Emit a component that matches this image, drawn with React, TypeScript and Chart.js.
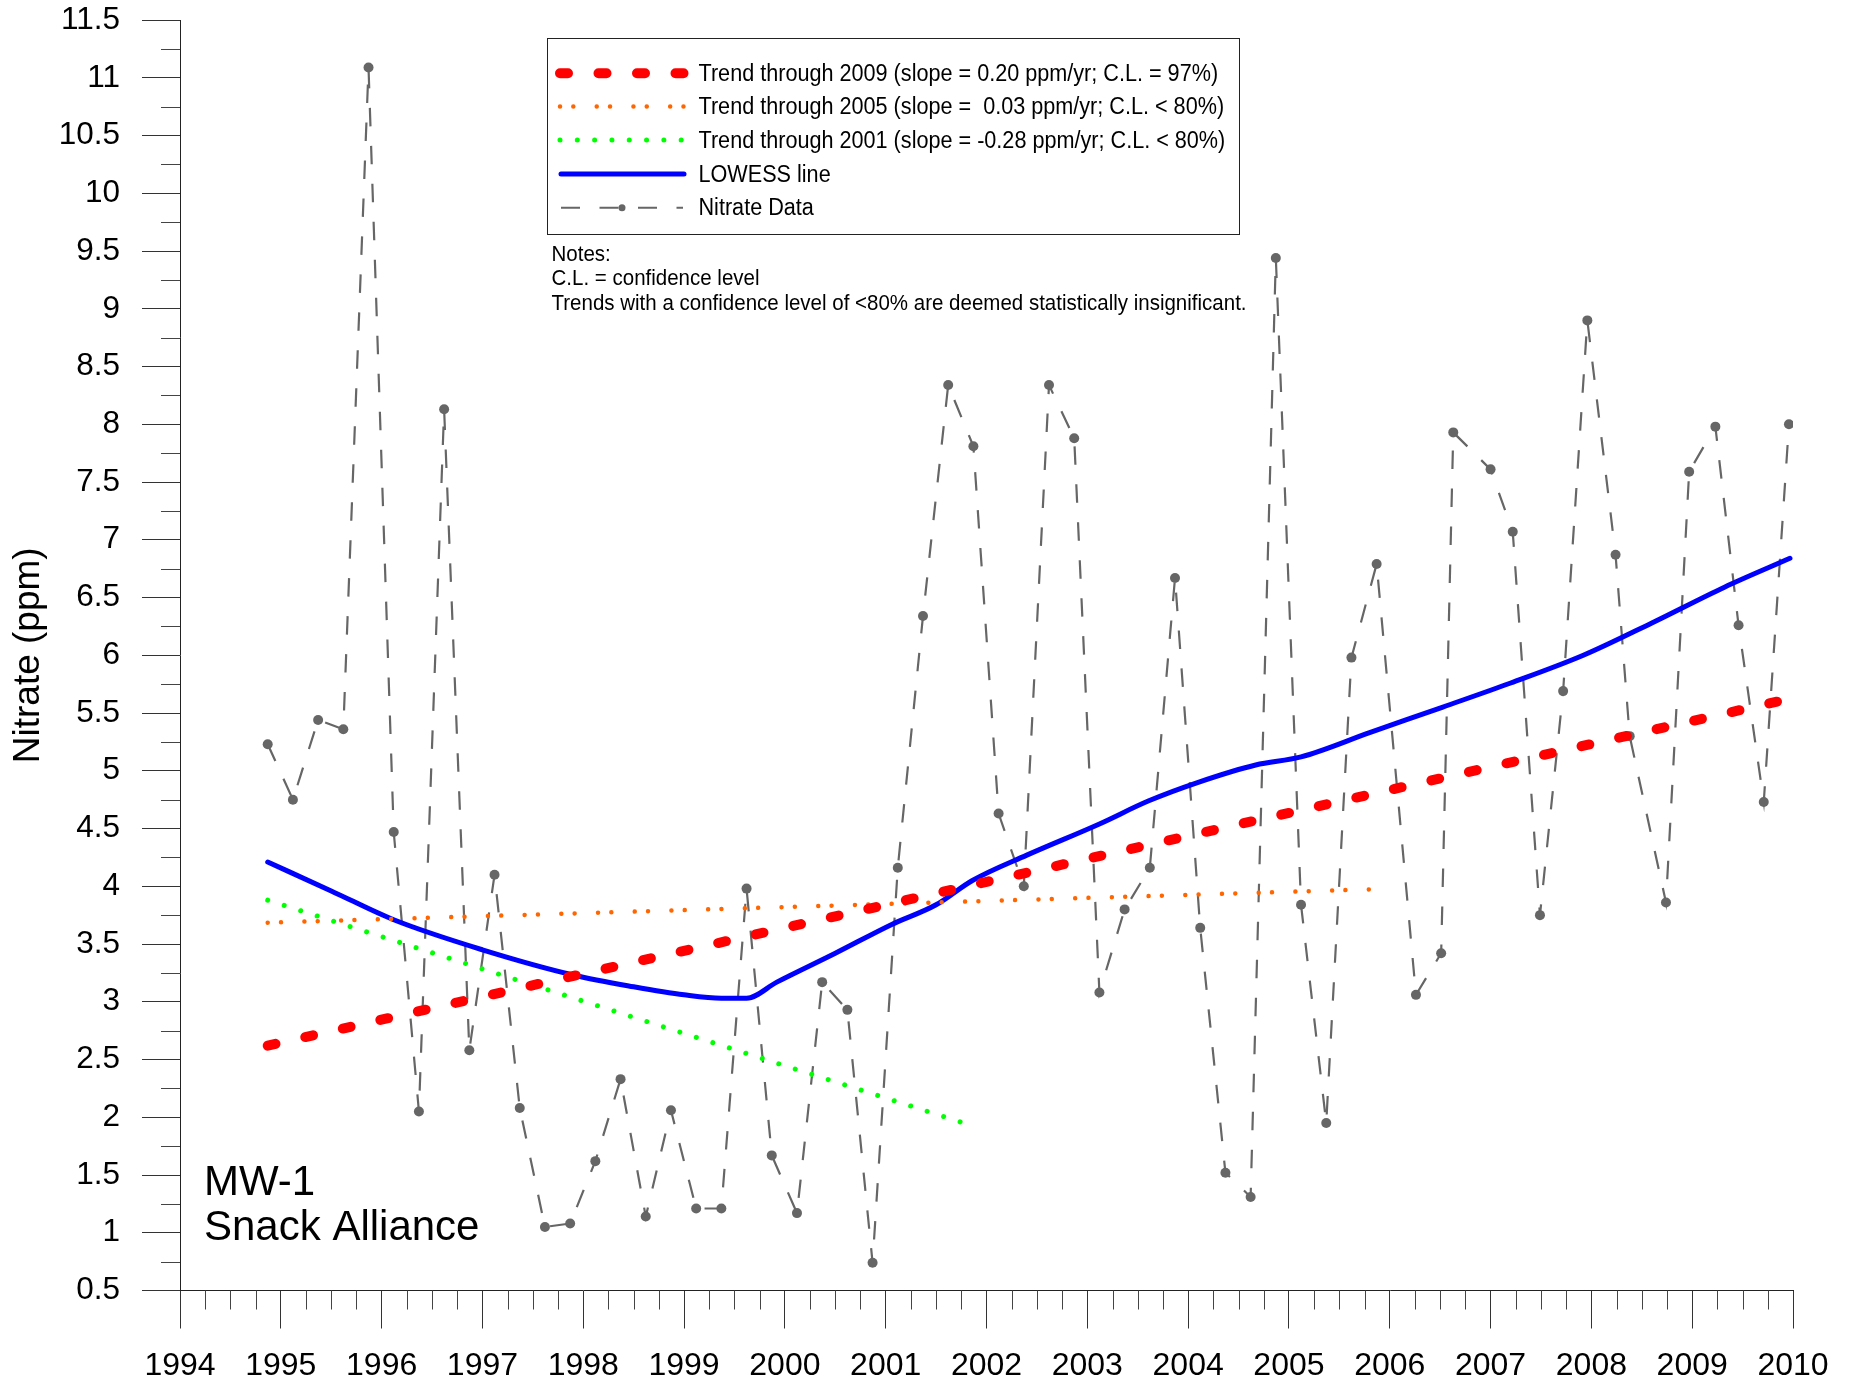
import { useEffect, useRef } from 'react';
import { Chart, registerables } from 'chart.js';

Chart.register(...registerables);

// ---------------- data ----------------
const nitrateYears = [
  1994.87, 1995.12, 1995.37, 1995.62, 1995.87, 1996.12, 1996.37, 1996.62, 1996.87, 1997.12,
  1997.37, 1997.62, 1997.87, 1998.12, 1998.37, 1998.62, 1998.87, 1999.12, 1999.37, 1999.62,
  1999.87, 2000.12, 2000.37, 2000.62, 2000.87, 2001.12, 2001.37, 2001.62, 2001.87, 2002.12,
  2002.37, 2002.62, 2002.87, 2003.12, 2003.37, 2003.62, 2003.87, 2004.12, 2004.37, 2004.62,
  2004.87, 2005.12, 2005.37, 2005.62, 2005.87, 2006.26, 2006.51, 2006.63, 2007.0, 2007.22,
  2007.49, 2007.72, 2007.96, 2008.24, 2008.38, 2008.74, 2008.97, 2009.23, 2009.46, 2009.71,
  2009.96,
];
const nitrateValues = [
  5.23, 4.75, 5.44, 5.36, 11.09, 4.47, 2.05, 8.13, 2.58, 4.1,
  2.08, 1.05, 1.08, 1.62, 2.33, 1.14, 2.06, 1.21, 1.21, 3.98,
  1.67, 1.17, 3.17, 2.93, 0.74, 4.16, 6.34, 8.34, 7.81, 4.63,
  4.0, 8.34, 7.88, 3.08, 3.8, 4.16, 6.67, 3.64, 1.52, 1.31,
  9.44, 3.84, 1.95, 5.98, 6.79, 3.06, 3.42, 7.93, 7.61, 7.07,
  3.75, 5.69, 8.9, 6.87, 5.3, 3.86, 7.59, 7.98, 6.26, 4.73,
  8.0,
];

const lowessYears = [
  1994.87, 1995.5, 1996.12, 1997.0, 1997.91, 1998.5, 1999.0, 1999.37, 1999.62, 1999.92,
  2000.5, 2001.06, 2001.5, 2001.86, 2002.4, 2003.12, 2003.61, 2004.1, 2004.67, 2005.12,
  2005.8, 2006.52, 2007.2, 2007.92, 2008.6, 2009.32, 2009.97,
];
const lowessValues = [
  4.21, 3.96, 3.71, 3.45, 3.23, 3.13, 3.06, 3.03, 3.03, 3.17,
  3.42, 3.67, 3.84, 4.05, 4.27, 4.54, 4.74, 4.9, 5.05, 5.12,
  5.33, 5.55, 5.76, 6.0, 6.28, 6.59, 6.84,
];

const trend2009Years = [1994.87, 2009.85];
const trend2009Values = [2.62, 5.6];
const trend2005Years = [1994.87, 2005.87];
const trend2005Values = [3.685, 3.975];
const trend2001Years = [1994.87, 2001.74];
const trend2001Values = [3.88, 1.96];

const xTickValues = [
  1994, 1995, 1996, 1997, 1998, 1999, 2000, 2001, 2002, 2003, 2004, 2005, 2006, 2007, 2008, 2009, 2010,
];
const yTickValues = [
  0.5, 1, 1.5, 2, 2.5, 3, 3.5, 4, 4.5, 5, 5.5, 6, 6.5, 7, 7.5, 8, 8.5, 9, 9.5, 10, 10.5, 11, 11.5,
];

const legendLabels = [
  'Trend through 2009 (slope = 0.20 ppm/yr; C.L. = 97%)',
  'Trend through 2005 (slope =  0.03 ppm/yr; C.L. < 80%)',
  'Trend through 2001 (slope = -0.28 ppm/yr; C.L. < 80%)',
  'LOWESS line',
  'Nitrate Data',
];
const noteLines = [
  'Notes:',
  'C.L. = confidence level',
  'Trends with a confidence level of <80% are deemed statistically insignificant.',
];
const siteLines = ['MW-1', 'Snack Alliance'];

// ---------------- styles ----------------
const FONT = '"Liberation Sans", Arial, Helvetica, sans-serif';
const GRAY = '#666666';
const RED = '#FF0000';
const ORANGE = '#FF6600';
const GREEN = '#00FF00';
const BLUE = '#0000FF';

const toXY = (xs: number[], ys: number[]) => xs.map((x, i) => ({ x, y: ys[i] }));

function drawScaledText(ctx: CanvasRenderingContext2D, text: string, x: number, y: number, font: string, sx: number) {
  ctx.save();
  ctx.translate(x, y);
  ctx.scale(sx, 1);
  ctx.font = font;
  ctx.fillStyle = '#000';
  ctx.textBaseline = 'alphabetic';
  ctx.textAlign = 'left';
  ctx.fillText(text, 0, 0);
  ctx.restore();
}

const overlayPlugin = {
  id: 'overlay',
  afterDraw(chart: any) {
    const ctx: CanvasRenderingContext2D = chart.ctx;
    const xs = chart.scales.x;
    const ys = chart.scales.y;
    const area = chart.chartArea;
    ctx.save();

    // minor ticks
    ctx.strokeStyle = '#444';
    ctx.lineWidth = 1;
    ctx.beginPath();
    for (let i = 0; i < yTickValues.length - 1; i++) {
      const v = (yTickValues[i] + yTickValues[i + 1]) / 2;
      const py = Math.round(ys.getPixelForValue(v)) + 0.5;
      ctx.moveTo(area.left - 19, py);
      ctx.lineTo(area.left, py);
    }
    for (let i = 0; i < xTickValues.length - 1; i++) {
      for (let q = 1; q < 4; q++) {
        const v = xTickValues[i] + q * 0.25;
        const px = Math.round(xs.getPixelForValue(v)) + 0.5;
        ctx.moveTo(px, area.bottom);
        ctx.lineTo(px, area.bottom + 19);
      }
    }
    ctx.stroke();

    // legend box
    const bx = 547.5, by = 38.5, bw = 692, bh = 196;
    ctx.fillStyle = '#fff';
    ctx.fillRect(bx, by, bw, bh);
    ctx.strokeStyle = '#222';
    ctx.lineWidth = 1;
    ctx.strokeRect(bx, by, bw, bh);

    const sx0 = 560, sx1 = 684;
    const rowBase = [80.7, 114, 147.5, 181.5, 215];
    const ds = chart.data.datasets;
    const sample = (i: number, y: number) => {
      const d = ds[i];
      ctx.save();
      ctx.strokeStyle = d.borderColor;
      ctx.lineWidth = d.borderWidth;
      ctx.lineCap = d.borderCapStyle || 'butt';
      ctx.setLineDash(d.borderDash || []);
      ctx.beginPath();
      ctx.moveTo(sx0, y);
      ctx.lineTo(sx1, y);
      ctx.stroke();
      ctx.restore();
    };
    sample(0, rowBase[0] - 7.4);
    sample(1, rowBase[1] - 7.4);
    sample(2, rowBase[2] - 7.4);
    ctx.save();
    ctx.strokeStyle = BLUE;
    ctx.lineWidth = 5;
    ctx.lineCap = 'round';
    ctx.beginPath();
    ctx.moveTo(561, rowBase[3] - 7.5);
    ctx.lineTo(684, rowBase[3] - 7.5);
    ctx.stroke();
    ctx.restore();
    // nitrate sample
    ctx.save();
    ctx.strokeStyle = GRAY;
    ctx.lineWidth = 2;
    ctx.setLineDash([19, 19.5]);
    ctx.beginPath();
    ctx.moveTo(561, rowBase[4] - 7.3);
    ctx.lineTo(683, rowBase[4] - 7.3);
    ctx.stroke();
    ctx.fillStyle = GRAY;
    ctx.beginPath();
    ctx.arc(622, rowBase[4] - 7.3, 3.5, 0, Math.PI * 2);
    ctx.fill();
    ctx.restore();

    const legendFont = `23px ${FONT}`;
    legendLabels.forEach((t, i) => drawScaledText(ctx, t, 698.5, rowBase[i], legendFont, 0.94));

    // notes
    const noteFont = `22px ${FONT}`;
    const noteBase = [260.5, 285, 309.5];
    noteLines.forEach((t, i) => drawScaledText(ctx, t, 551.5, noteBase[i], noteFont, 0.932));

    // site label
    const siteFont = `42px ${FONT}`;
    drawScaledText(ctx, siteLines[0], 204, 1195, siteFont, 1);
    drawScaledText(ctx, siteLines[1], 204, 1240, siteFont, 1);

    ctx.restore();
  },
};

export default function App() {
  const canvasRef = useRef<HTMLCanvasElement | null>(null);

  useEffect(() => {
    document.body.style.margin = '0';
    const canvas = canvasRef.current;
    if (!canvas) return;

    const chart = new Chart(canvas, {
      type: 'line',
      data: {
        datasets: [
          {
            label: legendLabels[0],
            data: toXY(trend2009Years, trend2009Values),
            borderColor: RED,
            borderWidth: 10,
            borderDash: [8, 30.5],
            borderCapStyle: 'round',
            pointRadius: 0,
            fill: false,
            order: 0,
          },
          {
            label: legendLabels[1],
            data: toXY(trend2005Years, trend2005Values),
            borderColor: ORANGE,
            borderWidth: 4.5,
            borderDash: [0.01, 13.3, 0.01, 23.4],
            borderCapStyle: 'round',
            pointRadius: 0,
            fill: false,
            order: 1,
          },
          {
            label: legendLabels[2],
            data: toXY(trend2001Years, trend2001Values),
            borderColor: GREEN,
            borderWidth: 5,
            borderDash: [0.01, 17.3],
            borderCapStyle: 'round',
            pointRadius: 0,
            fill: false,
            order: 2,
          },
          {
            label: legendLabels[3],
            data: toXY(lowessYears, lowessValues),
            borderColor: BLUE,
            borderWidth: 5,
            cubicInterpolationMode: 'monotone',
            borderCapStyle: 'round',
            pointRadius: 0,
            fill: false,
            order: 3,
          },
          {
            label: legendLabels[4],
            data: toXY(nitrateYears, nitrateValues),
            borderColor: GRAY,
            borderWidth: 2.2,
            borderDash: [18.5, 19.5],
            pointRadius: 5,
            pointBackgroundColor: GRAY,
            pointBorderWidth: 0,
            pointBorderColor: GRAY,
            fill: false,
            order: 4,
          },
        ],
      } as any,
      options: {
        responsive: false,
        animation: false,
        events: [],
        layout: { padding: { left: 0, top: 20.1, right: 60, bottom: 0 } },
        plugins: {
          legend: { display: false },
          tooltip: { enabled: false },
          title: { display: false },
        },
        scales: {
          x: {
            type: 'linear',
            min: 1994,
            max: 2010,
            afterBuildTicks: (scale: any) => {
              scale.ticks = xTickValues.map((v) => ({ value: v }));
            },
            afterFit: (scale: any) => {
              scale.height = 94.5;
            },
            grid: {
              drawOnChartArea: false,
              drawTicks: true,
              tickLength: 38,
              tickColor: '#333',
              tickWidth: 1,
            },
            border: { display: true, color: '#222', width: 1 },
            ticks: {
              autoSkip: false,
              maxRotation: 0,
              minRotation: 0,
              padding: 18,
              color: '#000',
              font: { family: FONT, size: 32 },
              callback: (v: any) => String(v),
            },
          },
          y: {
            type: 'linear',
            min: 0.5,
            max: 11.5,
            afterBuildTicks: (scale: any) => {
              scale.ticks = yTickValues.map((v) => ({ value: v }));
            },
            afterFit: (scale: any) => {
              scale.width = 180;
              scale.paddingTop = 0;
              scale.paddingBottom = 0;
            },
            grid: {
              drawOnChartArea: false,
              drawTicks: true,
              tickLength: 38,
              tickColor: '#333',
              tickWidth: 1,
            },
            border: { display: true, color: '#222', width: 1 },
            title: {
              display: true,
              text: 'Nitrate (ppm)',
              color: '#000',
              font: { family: FONT, size: 37 },
              padding: { top: 7, bottom: 0 },
            },
            ticks: {
              autoSkip: false,
              padding: 22,
              color: '#000',
              font: { family: FONT, size: 31.5 },
              callback: (v: any) => String(v),
            },
          },
        },
      } as any,
      plugins: [overlayPlugin],
    });

    return () => {
      chart.destroy();
    };
  }, []);

  return (
    <div style={{ width: 1853, height: 1385, position: 'relative', background: '#fff' }}>
      <canvas ref={canvasRef} width={1853} height={1385} style={{ display: 'block', width: 1853, height: 1385 }} />
    </div>
  );
}
